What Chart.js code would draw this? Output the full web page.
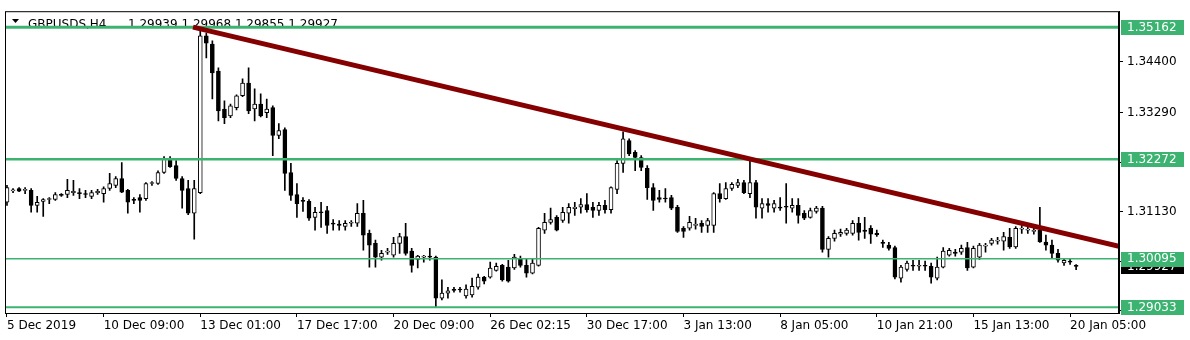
<!DOCTYPE html>
<html>
<head>
<meta charset="utf-8">
<script src="https://cdn.jsdelivr.net/npm/chart.js@4/dist/chart.umd.min.js"></script>
<style>
html, body { margin: 0; padding: 0; background: #fff; }
#wrap { width: 1190px; height: 340px; }
</style>
</head>
<body>
<div id="wrap"><canvas id="chart"></canvas></div>
<script>
// GBPUSD H4 candles, one entry per bar (bar index = position on the x axis)
const openP = [
  1.3133,1.3158,1.3163,1.3159,1.3159,1.3126,1.3135,1.3139,1.3139,1.3150,
  1.3150,1.3154,1.3154,1.3152,1.3146,1.3154,1.3152,1.3163,1.3170,1.3185,
  1.3159,1.3139,1.3143,1.3141,1.3174,1.3174,1.3198,1.3228,1.3213,1.3185,
  1.3163,1.3109,1.3154,1.3497,1.3479,1.3420,1.3337,1.3322,1.3340,1.3366,
  1.3394,1.3337,1.3348,1.3329,1.3340,1.3279,1.3292,1.3198,1.3150,1.3137,
  1.3135,1.3100,1.3111,1.3115,1.3087,1.3085,1.3080,1.3087,1.3087,1.3109,
  1.3065,1.3043,1.3013,1.3024,1.3017,1.3043,1.3058,1.3026,1.3008,1.3013,
  1.3015,1.3013,1.2923,1.2934,1.2941,1.2943,1.2928,1.2930,1.2947,1.2969,
  1.2969,1.2984,1.2995,1.2991,1.2989,1.3010,1.2995,1.2978,1.2995,1.3072,
  1.3089,1.3100,1.3093,1.3109,1.3119,1.3122,1.3128,1.3122,1.3115,1.3126,
  1.3117,1.3161,1.3218,1.3268,1.3242,1.3231,1.3207,1.3165,1.3143,1.3141,
  1.3143,1.3122,1.3076,1.3076,1.3082,1.3087,1.3082,1.3082,1.3152,1.3141,
  1.3163,1.3170,1.3176,1.3152,1.3176,1.3120,1.3130,1.3120,1.3122,1.3124,
  1.3120,1.3126,1.3109,1.3100,1.3113,1.3120,1.3030,1.3054,1.3063,1.3065,
  1.3065,1.3087,1.3072,1.3076,1.3065,1.3045,1.3039,1.3034,1.2967,1.2986,
  1.2995,1.2993,1.2994,1.2993,1.2967,1.2991,1.3017,1.3024,1.3024,1.3034,
  1.2991,1.3013,1.3037,1.3043,1.3048,1.3048,1.3056,1.3035,1.3074,1.3072,
  1.3069,1.3072,1.3046,1.3039,1.3021,1.3000,1.3004,1.29939
];
const highP = [
  1.3170,1.3163,1.3165,1.3165,1.3163,1.3146,1.3141,1.3143,1.3154,1.3152,
  1.3183,1.3181,1.3163,1.3159,1.3159,1.3161,1.3167,1.3196,1.3189,1.3220,
  1.3161,1.3143,1.3150,1.3176,1.3178,1.3202,1.3233,1.3233,1.3224,1.3189,
  1.3181,1.3181,1.3516,1.3503,1.3486,1.3427,1.3355,1.3348,1.3368,1.3403,
  1.3427,1.3381,1.3370,1.3359,1.3344,1.3305,1.3296,1.3218,1.3174,1.3143,
  1.3139,1.3122,1.3133,1.3124,1.3095,1.3093,1.3093,1.3093,1.3130,1.3137,
  1.3072,1.3050,1.3028,1.3032,1.3056,1.3065,1.3087,1.3032,1.3017,1.3017,
  1.3032,1.3015,1.2963,1.2947,1.2947,1.2947,1.2952,1.2967,1.2976,1.2971,
  1.3002,1.3000,1.2997,1.3006,1.3019,1.3015,1.3010,1.3010,1.3078,1.3109,
  1.3120,1.3104,1.3122,1.3130,1.3133,1.3141,1.3152,1.3133,1.3133,1.3137,
  1.3167,1.3224,1.3287,1.3272,1.3246,1.3235,1.3213,1.3174,1.3159,1.3163,
  1.3148,1.3126,1.3080,1.3102,1.3098,1.3093,1.3098,1.3154,1.3174,1.3176,
  1.3176,1.3183,1.3181,1.3228,1.3181,1.3141,1.3141,1.3137,1.3143,1.3174,
  1.3141,1.3141,1.3115,1.3120,1.3124,1.3124,1.3058,1.3072,1.3074,1.3076,
  1.3093,1.3100,1.3100,1.3082,1.3072,1.3050,1.3045,1.3037,1.2995,1.3004,
  1.3006,1.3006,1.3004,1.3000,1.3013,1.3034,1.3032,1.3030,1.3039,1.3045,
  1.3037,1.3043,1.3043,1.3054,1.3056,1.3067,1.3076,1.3080,1.3087,1.3080,
  1.3078,1.3122,1.3061,1.3050,1.3030,1.3010,1.3008,1.29968
];
const lowP = [
  1.3126,1.3154,1.3156,1.3152,1.3111,1.3111,1.3102,1.3130,1.3137,1.3146,
  1.3143,1.3148,1.3141,1.3143,1.3141,1.3150,1.3133,1.3159,1.3165,1.3154,
  1.3109,1.3130,1.3111,1.3137,1.3170,1.3172,1.3196,1.3209,1.3181,1.3120,
  1.3106,1.3052,1.3152,1.3449,1.3359,1.3311,1.3305,1.3318,1.3335,1.3364,
  1.3327,1.3311,1.3320,1.3318,1.3235,1.3272,1.3159,1.3137,1.3100,1.3113,
  1.3093,1.3072,1.3078,1.3065,1.3072,1.3072,1.3072,1.3080,1.3080,1.3028,
  1.2991,1.2991,1.3006,1.3019,1.3013,1.3021,1.3017,1.2980,1.2989,1.3002,
  1.3006,1.2903,1.2919,1.2923,1.2936,1.2936,1.2923,1.2925,1.2943,1.2954,
  1.2967,1.2982,1.2960,1.2958,1.2986,1.2991,1.2969,1.2976,1.2993,1.3065,
  1.3085,1.3070,1.3089,1.3087,1.3104,1.3109,1.3111,1.3100,1.3104,1.3109,
  1.3109,1.3152,1.3198,1.3235,1.3202,1.3202,1.3139,1.3115,1.3133,1.3133,
  1.3117,1.3067,1.3056,1.3072,1.3074,1.3067,1.3067,1.3067,1.3133,1.3139,
  1.3159,1.3165,1.3152,1.3143,1.3098,1.3098,1.3111,1.3111,1.3115,1.3087,
  1.3111,1.3087,1.3095,1.3098,1.3109,1.3024,1.3013,1.3048,1.3058,1.3061,
  1.3061,1.3050,1.3054,1.3043,1.3058,1.3034,1.3028,1.2965,1.2958,1.2982,
  1.2984,1.2984,1.2984,1.2956,1.2963,1.2989,1.3015,1.3015,1.3019,1.2984,
  1.2989,1.3008,1.3024,1.3039,1.3041,1.3028,1.3032,1.3032,1.3065,1.3065,
  1.3063,1.3045,1.3028,1.3010,1.3002,1.2995,1.2997,1.29855
];
const closeP = [
  1.3165,1.3160,1.3157,1.3160,1.3126,1.3133,1.3139,1.3141,1.3150,1.3148,
  1.3159,1.3157,1.3152,1.3150,1.3154,1.3157,1.3163,1.3174,1.3185,1.3155,
  1.3133,1.3137,1.3137,1.3174,1.3176,1.3198,1.3228,1.3211,1.3185,1.3159,
  1.3109,1.3163,1.3497,1.3481,1.3416,1.3333,1.3318,1.3344,1.3366,1.3394,
  1.3333,1.3348,1.3322,1.3337,1.3279,1.3290,1.3196,1.3148,1.3130,1.3135,
  1.3098,1.3111,1.3110,1.3082,1.3085,1.3082,1.3087,1.3089,1.3109,1.3061,
  1.3039,1.3013,1.3021,1.3026,1.3043,1.3058,1.3021,1.2995,1.3015,1.3015,
  1.3013,1.2923,1.2934,1.2939,1.2940,1.2941,1.2943,1.2949,1.2969,1.2960,
  1.2989,1.2993,1.2963,1.2960,1.3013,1.2995,1.2978,1.3000,1.3076,1.3089,
  1.3095,1.3072,1.3111,1.3122,1.3122,1.3128,1.3117,1.3115,1.3126,1.3117,
  1.3165,1.3218,1.3272,1.3239,1.3231,1.3209,1.3165,1.3137,1.3139,1.3140,
  1.3120,1.3069,1.3069,1.3089,1.3085,1.3080,1.3093,1.3152,1.3141,1.3163,
  1.3172,1.3176,1.3154,1.3176,1.3122,1.3130,1.3126,1.3130,1.3120,1.3122,
  1.3126,1.3104,1.3098,1.3115,1.3120,1.3030,1.3054,1.3065,1.3067,1.3072,
  1.3087,1.3067,1.3069,1.3063,1.3062,1.3043,1.3032,1.2969,1.2991,1.3000,
  1.2993,1.2994,1.2993,1.2969,1.2991,1.3026,1.3028,1.3021,1.3032,1.2989,
  1.3032,1.3039,1.3039,1.3050,1.3050,1.3058,1.3035,1.3076,1.3075,1.3073,
  1.3072,1.3046,1.3039,1.3021,1.3006,1.3006,1.3002,1.29927
];

// time axis: a label every 16 bars
const timeTickPos = [0, 16, 32, 48, 64, 80, 96, 112, 128, 144, 160, 176];
const timeLabels = ['5 Dec 2019', '10 Dec 09:00', '13 Dec 01:00', '17 Dec 17:00', '20 Dec 09:00',
  '26 Dec 02:15', '30 Dec 17:00', '3 Jan 13:00', '8 Jan 05:00', '10 Jan 21:00', '15 Jan 13:00', '20 Jan 05:00'];

// price axis
const priceTicks = [1.2896, 1.3004, 1.3113, 1.3221, 1.3329, 1.3440];
const xMin = -0.33, xMax = 184.1;
const yMin = 1.28906, yMax = 1.35511;

// horizontal levels and trend line
const levels = [1.35162, 1.32272, 1.30095, 1.29033];
const levelWidths = [3, 2.5, 1.5, 2];
const trendX = [30.8, 184.1];
const trendY = [1.35162, 1.30364];

const symbolText = 'GBPUSDS,H4';
const ohlcText = '1.29939 1.29968 1.29855 1.29927';
const lastPrice = 1.29927;

const green = '#3cb371';
const maroon = '#850000';
const font = { family: 'DejaVu Sans', size: 12 };

const bodies = openP.map((o, i) => ({ x: i, y: [o, closeP[i]] }));
const wicks = lowP.map((l, i) => ({ x: i, y: [l, highP[i]] }));

const levelSets = levels.map((v, k) => ({
  type: 'line',
  data: [{ x: xMin, y: v }, { x: xMax, y: v }],
  borderColor: green,
  borderWidth: levelWidths[k],
  pointRadius: 0,
  clip: 0
}));

const overlay = {
  id: 'overlay',
  beforeDatasetsDraw(chart) {
    const c = chart.ctx;
    c.save();
    c.fillStyle = '#000';
    c.beginPath();
    c.moveTo(12, 19); c.lineTo(19, 19); c.lineTo(15.5, 23); c.closePath();
    c.fill();
    c.font = '12px "DejaVu Sans"';
    c.textBaseline = 'alphabetic';
    c.fillText(symbolText, 28, 28);
    c.fillText(ohlcText, 128, 28);
    c.restore();
  },
  afterDatasetsDraw(chart) {
    const a = chart.chartArea, c = chart.ctx;
    c.save();
    c.strokeStyle = '#000';
    c.lineWidth = 1;
    c.strokeRect(a.left + 0.5, a.top + 0.5, a.right - a.left - 1, a.bottom - a.top);
    c.restore();
  },
  afterDraw(chart) {
    const y = chart.scales.y, c = chart.ctx;
    c.save();
    c.font = '12px "DejaVu Sans"';
    c.textBaseline = 'middle';
    const box = (v, bg) => {
      const py = y.getPixelForValue(v);
      c.fillStyle = bg;
      c.fillRect(1121, Math.round(py) - 7, 63, 15);
      c.fillStyle = '#fff';
      c.fillText(v.toFixed(5), 1127, py + 0.5);
    };
    box(lastPrice, '#000');
    levels.forEach(v => box(v, green));
    c.restore();
  }
};

new Chart(document.getElementById('chart'), {
  type: 'bar',
  data: {
    datasets: [
      {
        type: 'line',
        data: [{ x: trendX[0], y: trendY[0] }, { x: trendX[1], y: trendY[1] }],
        borderColor: maroon,
        borderWidth: 5,
        pointRadius: 0,
        clip: 0
      },
      ...levelSets,
      {
        data: bodies,
        grouped: false,
        barThickness: 4,
        minBarLength: 1,
        borderSkipped: false,
        borderWidth: 1,
        borderColor: '#000',
        backgroundColor: ctx => closeP[ctx.dataIndex] >= openP[ctx.dataIndex] ? '#fff' : '#000'
      },
      {
        data: wicks,
        grouped: false,
        barThickness: 1,
        backgroundColor: '#000'
      }
    ]
  },
  options: {
    responsive: true,
    maintainAspectRatio: false,
    animation: false,
    devicePixelRatio: 1,
    events: [],
    layout: { padding: { left: 5, top: 10, right: 0, bottom: 0 } },
    plugins: { legend: { display: false }, tooltip: { enabled: false } },
    scales: {
      x: {
        type: 'linear',
        min: xMin,
        max: xMax,
        bounds: 'data',
        offset: false,
        afterBuildTicks: s => { s.ticks = timeTickPos.map(v => ({ value: v })); },
        afterFit: s => { s.height = 27; },
        grid: { drawOnChartArea: false, offset: false, tickLength: 4, color: '#000' },
        border: { color: '#000' },
        ticks: {
          autoSkip: false,
          maxRotation: 0,
          align: 'start',
          padding: 2,
          color: '#000',
          font: font,
          callback: (v, i) => timeLabels[i]
        }
      },
      y: {
        position: 'right',
        min: yMin,
        max: yMax,
        bounds: 'data',
        afterBuildTicks: s => { s.ticks = priceTicks.map(v => ({ value: v })); },
        afterFit: s => { s.width = 71; },
        grid: { drawOnChartArea: false, tickLength: 4, color: '#000' },
        border: { color: '#000' },
        ticks: {
          padding: 4,
          color: '#000',
          font: font,
          callback: v => v.toFixed(5)
        }
      }
    }
  },
  plugins: [overlay]
});
</script>
</body>
</html>
